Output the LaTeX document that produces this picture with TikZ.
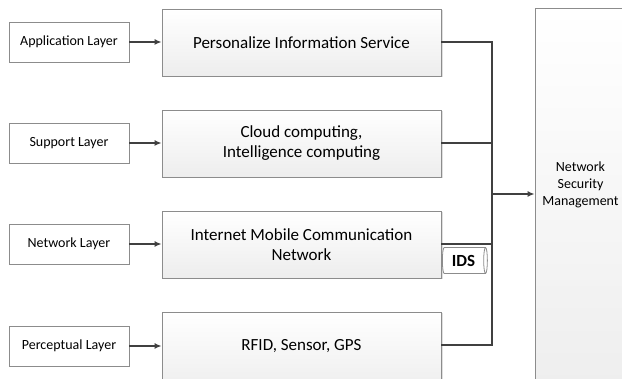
\documentclass[tikz,border=0pt]{standalone}
\usepackage{fontspec}
\setmainfont{Carlito}
\usetikzlibrary{shapes.geometric,arrows.meta,shadows}
\definecolor{bordergrey}{HTML}{8C8C8C}
\definecolor{linegrey}{HTML}{404040}
\definecolor{fillbot}{HTML}{EDEDED}
\begin{document}
\begin{tikzpicture}[x=1pt,y=-1pt,
  layerbox/.style={draw=bordergrey, fill=white, minimum width=120pt, minimum height=40pt, inner sep=0pt, font=\fontsize{14}{16}\selectfont, line width=0.8pt},
  mainbox/.style={draw=bordergrey, top color=white, bottom color=fillbot, minimum width=279pt, minimum height=67pt, inner sep=0pt, align=center, font=\fontsize{17}{20}\selectfont, line width=0.8pt, drop shadow={shadow xshift=1.5pt, shadow yshift=-1.5pt, opacity=0.25}},
  conn/.style={draw=linegrey, line width=1.5pt},
  arr/.style={conn, -{Latex[length=7pt,width=6pt]}}
]
\useasboundingbox (0,0) rectangle (622,379);
\clip (0,0) rectangle (622,379);
\fill[white] (0,0) rectangle (622,379);

\node[layerbox] (l1) at (69,42) {Application Layer};
\node[layerbox] (l2) at (69,143) {Support Layer};
\node[layerbox] (l3) at (69,244) {Network Layer};
\node[layerbox] (l4) at (69,346) {Perceptual Layer};

\node[mainbox] (m1) at (301.5,42.5) {Personalize Information Service};
\node[mainbox] (m2) at (301.5,143.5) {Cloud computing,\\Intelligence computing};
\node[mainbox] (m3) at (301.5,244.5) {Internet Mobile Communication\\Network};
\node[mainbox, minimum height=80pt] (m4) at (301.5,352) {};
\node[font=\fontsize{17}{20}\selectfont] at (301.5,346) {RFID, Sensor, GPS};

\node[draw=bordergrey, top color=white, bottom color=fillbot, minimum width=100pt, minimum height=400pt, inner sep=0pt, line width=0.8pt] (nsm) at (585,208) {};
\node[align=center, font=\fontsize{14}{17}\selectfont] (nsmt) at (580.5,185) {Network\\Security\\Management};

\draw[arr] (l1.east) -- (m1.west |- l1.east);
\draw[arr] (l2.east) -- (m2.west |- l2.east);
\draw[arr] (l3.east) -- (m3.west |- l3.east);
\draw[arr] (l4.east) -- (m4.west |- l4.east);

\coordinate (bus1) at (492,42);
\coordinate (bus4) at (492,345);
\coordinate (busmid) at (492,194);
\draw[conn] (m1.east |- bus1) -- (bus1) -- (bus4) -- (m4.east |- bus4);
\draw[conn] (m2.east |- 0,143) -- (492,143);
\draw[conn] (m3.east |- 0,244) -- (492,244);
\draw[arr] (busmid) -- (nsm.west |- busmid);

\node[cylinder, draw=bordergrey, fill=white, line width=0.8pt, minimum width=26pt, minimum height=45pt, shape aspect=0.3, inner sep=0.5pt, font=\bfseries\fontsize{17}{18}\selectfont] (ids) at (463.5,260.5) {IDS};
\end{tikzpicture}
\end{document}
